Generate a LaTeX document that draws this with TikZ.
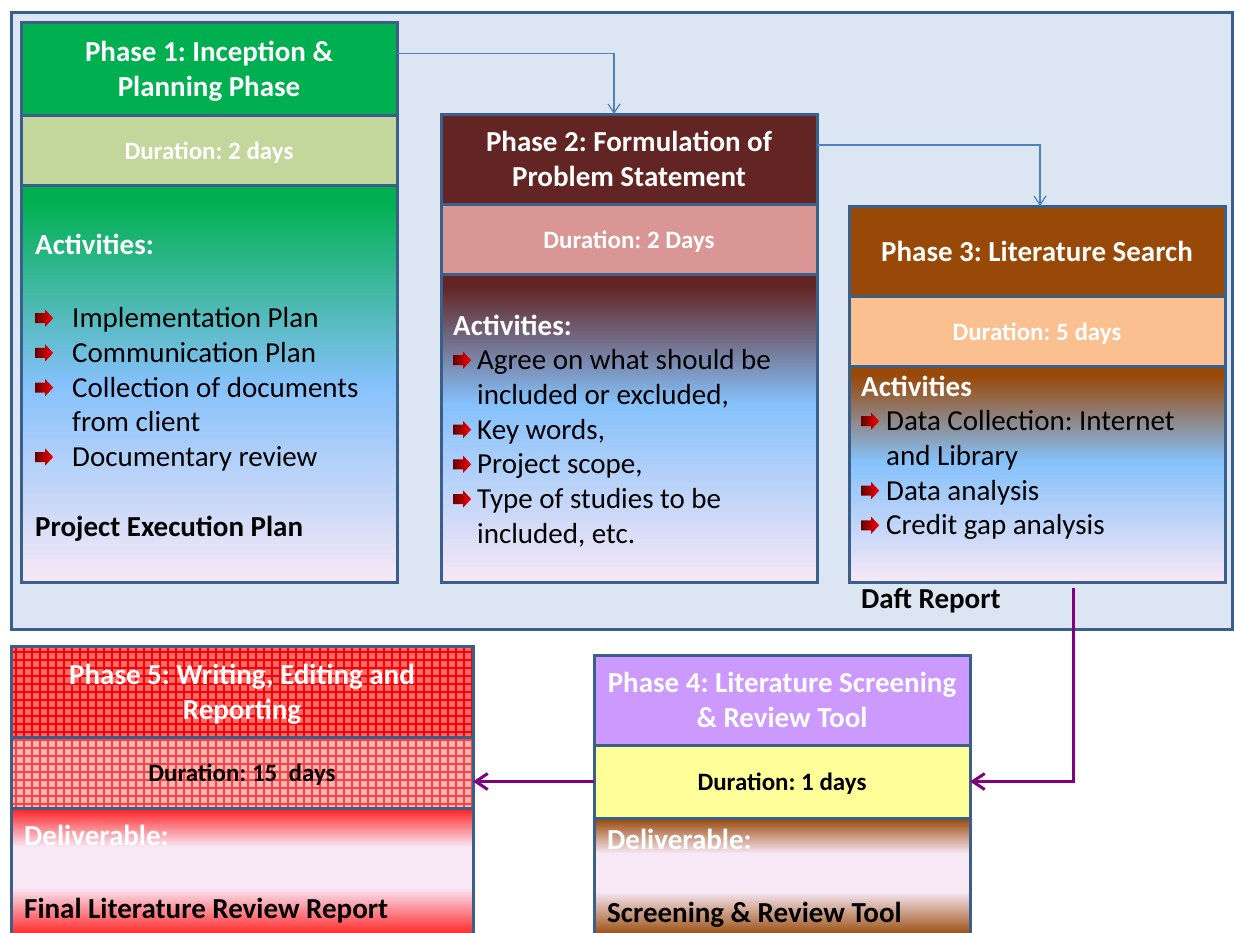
\documentclass[tikz,border=0pt]{standalone}
\usepackage{fontspec}
\setmainfont{Carlito}
\usepackage{tikz}
\usetikzlibrary{positioning,arrows.meta,patterns.meta}
\usepackage{xcolor}
\frenchspacing

\definecolor{panelfill}{HTML}{DCE6F2}
\definecolor{edge}{HTML}{3A5F8B}
\definecolor{linkblue}{HTML}{4F81BD}
\definecolor{flowpurple}{HTML}{80007F}
\definecolor{grn}{HTML}{00B050}
\definecolor{grnlight}{HTML}{C3D69B}
\definecolor{maroon}{HTML}{632523}
\definecolor{rose}{HTML}{D99694}
\definecolor{rust}{HTML}{984807}
\definecolor{peach}{HTML}{FAC090}
\definecolor{lilac}{HTML}{CC99FF}
\definecolor{lemon}{HTML}{FFFF99}
\definecolor{sky}{HTML}{85C1FB}
\definecolor{blush}{HTML}{F8E8F6}
\definecolor{bright}{HTML}{FF2020}
\definecolor{redmid}{HTML}{FF6A6A}
\definecolor{redpale}{HTML}{FFB4B4}

\newcommand{\skyshading}[3]{%
  \pgfdeclareverticalshading{#1}{100bp}{color(0bp)=(blush); color(25bp)=(blush);
    color(#3)=(sky); color(73bp)=(#2); color(100bp)=(#2)}}
\skyshading{skygrn}{grn}{50bp}
\skyshading{skymaroon}{maroon}{54bp}
\skyshading{skyrust}{rust}{53bp}

\newcommand{\bandshading}[2]{%
  \pgfdeclareverticalshading{#1}{100bp}{color(0bp)=(#2); color(25bp)=(#2);
    color(44bp)=(blush); color(60bp)=(blush); color(75bp)=(#2); color(100bp)=(#2)}}
\bandshading{bandrust}{rust}
\bandshading{bandred}{bright}

\newcommand{\phasefont}{\fontsize{29}{34.7}\selectfont}
\newcommand{\durfont}{\fontsize{25}{30}\selectfont}
\newcommand{\redarrow}{\tikz[baseline=0pt,x=1pt,y=1pt]
  \path[left color=red!40!black,right color=red]
    (0,4.5) -- (10,4.5) -- (10,1) -- (18,9.5) -- (10,18) -- (10,14.5) -- (0,14.5) -- cycle;}
\newcommand{\bul}[1][25pt]{\makebox[#1][l]{\redarrow}}
\newcommand{\actbox}[1]{\parbox[t]{440pt}{\raggedright\leavevmode#1}}

\tikzset{
  >=Stealth,
}

\begin{document}
\begin{tikzpicture}[
  x=1pt, y=-1pt,
  node distance=0pt,
  box/.style={draw=edge, line width=3pt, outer sep=0pt, inner sep=0pt, minimum width=376pt},
  head/.style={box, minimum height=90pt, text=white, align=center, text depth=0pt, font=\bfseries\phasefont},
  dur/.style={box, minimum height=70pt, text=white, text height=23pt, text depth=4.6pt, font=\bfseries\durfont},
  body/.style={box},
  txt/.style={anchor=base west, inner sep=0pt, font=\phasefont, text=black},
  link/.style={->, draw=linkblue, line width=1.2pt, >={Straight Barb[length=9pt,width=12pt]}},
  flow/.style={->, draw=flowpurple, line width=3pt, >={Straight Barb[length=12pt,width=16pt]}}
]
\useasboundingbox (0,0) rectangle (1234,932);
\draw[draw=edge, line width=3pt, fill=panelfill] (11,12) rectangle (1232,629);

\node[head, fill=grn, minimum height=93pt, anchor=north west] (p1head) at (21,22) {Phase 1: Inception \&\\Planning Phase};
\node[dur, fill=grnlight, below=of p1head] (p1dur) {Duration: 2 days};
\node[body, shading=skygrn, minimum height=397pt, below=of p1dur] (p1body) {};

\node[head, fill=maroon, anchor=north west] (p2head) at ([xshift=44pt,yshift=-92pt]p1head.north east) {Phase 2: Formulation of\\Problem Statement};
\node[dur, fill=rose, below=of p2head] (p2dur) {Duration: 2 Days};
\node[body, shading=skymaroon, minimum height=308pt, below=of p2dur] (p2body) {};

\node[head, fill=rust, anchor=north west] (p3head) at ([xshift=32pt,yshift=-92pt]p2head.north east) {Phase 3: Literature Search};
\node[dur, fill=peach, below=of p3head] (p3dur) {Duration: 5 days};
\node[body, shading=skyrust, minimum height=216pt, below=of p3dur] (p3body) {};

\node[head, fill=lilac, anchor=north west] (p4head) at (594,655) {Phase 4: Literature Screening\\\& Review Tool};
\node[dur, fill=lemon, text=black, minimum height=73pt, below=of p4head] (p4dur) {Duration: 1 days};
\node[body, shading=bandrust, minimum height=118pt, below=of p4dur] (p4body) {};

\node[head, minimum width=462pt, minimum height=91pt, anchor=north west,
  preaction={fill=redmid}, pattern={Hatch[angle=0,distance=8pt,line width=2.5pt]}, pattern color=red]
  (p5head) at (11,646) {Phase 5: Writing, Editing and\\Reporting};
\node[dur, minimum width=462pt, minimum height=71pt, text=black, below=of p5head,
  preaction={fill=redpale}, pattern={Hatch[angle=0,distance=8pt,line width=2pt]}, pattern color=red!75]
  (p5dur) {Duration: 15\ \ days};
\node[body, minimum width=462pt, shading=bandred, minimum height=128pt, below=of p5dur] (p5body) {};

\draw[link] ([yshift=15pt]p1head.east) -| ([xshift=-15pt]p2head.north);
\draw[link] ([yshift=14pt]p2head.east) -| ([xshift=3pt]p3head.north);
\draw[flow] ([xshift=36pt,yshift=-6pt]p3body.south) |- (p4dur.east);
\draw[flow] (p4dur.west) -- (p4dur.west -| p5dur.east);

\node[txt] (p1acts) at ([xshift=14pt,yshift=-69pt]p1body.north west) {\actbox{%
  {\color{white}\bfseries Activities:}\\[39pt]
  \bul[37pt]Implementation Plan\\
  \bul[37pt]Communication Plan\\
  \bul[37pt]Collection of documents\\
  \hspace*{37pt}from client\\
  \bul[37pt]Documentary review\\[35pt]
  {\bfseries Project Execution Plan}}};
\node[txt] (p2acts) at ([xshift=12pt,yshift=-61pt]p2body.north west) {\actbox{%
  {\color{white}\bfseries Activities:}\\
  \bul[24pt]Agree on what should be\\
  \hspace*{24pt}included or excluded,\\
  \bul[24pt]Key words,\\
  \bul[24pt]Project scope,\\
  \bul[24pt]Type of studies to be\\
  \hspace*{24pt}included, etc.}};
\node[txt] (p3acts) at ([xshift=12pt,yshift=-30pt]p3body.north west) {\actbox{%
  {\color{white}\bfseries Activities}\\
  \bul Data Collection: Internet\\
  \hspace*{25pt}and Library\\
  \bul Data analysis\\
  \bul Credit gap analysis}};
\node[txt, font=\bfseries\phasefont] (draft) at ([xshift=12pt,yshift=-26pt]p3body.south west) {Daft Report};
\node[txt] (p4out) at ([xshift=13pt,yshift=-31pt]p4body.north west) {\actbox{%
  {\color{white}\bfseries Deliverable:}\\[39pt]
  {\bfseries Screening \& Review Tool}}};
\node[txt] (p5out) at ([xshift=13pt,yshift=-37pt]p5body.north west) {\actbox{%
  {\color{white}\bfseries Deliverable:}\\[39pt]
  {\bfseries Final Literature Review Report}}};
\end{tikzpicture}
\end{document}
